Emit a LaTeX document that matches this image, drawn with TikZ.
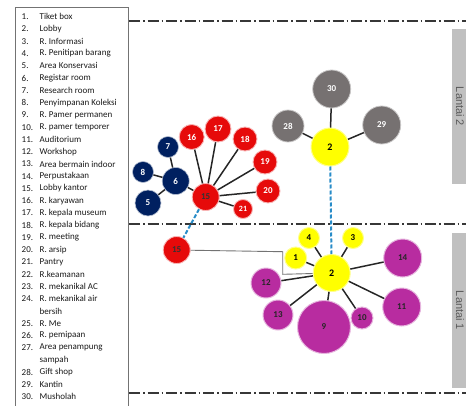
\documentclass[tikz,border=0pt]{standalone}
\usepackage{fontspec}
\setmainfont{Carlito}
\newfontfamily\lantaifont{Liberation Sans}
\definecolor{myred}{RGB}{230,10,10}
\definecolor{mynavy}{RGB}{0,32,96}
\definecolor{mygray}{RGB}{118,113,113}
\definecolor{myyel}{RGB}{255,255,0}
\definecolor{mymag}{RGB}{184,44,160}
\definecolor{myblue}{RGB}{40,140,200}
\definecolor{sepcol}{RGB}{55,55,55}
\definecolor{boxgray}{RGB}{192,192,192}
\tikzset{
  room/.style={circle, inner sep=0pt, font=\bfseries\fontsize{9}{10}\selectfont, minimum size=#1},
  rednode/.style={room=#1, fill=myred, draw=myred!30, line width=0.9pt, text=white},
  navynode/.style={room=#1, fill=mynavy, draw=mynavy!30, line width=0.6pt, text=white},
  graynode/.style={room=#1, fill=mygray, draw=mygray!40, line width=0.8pt, text=white},
  yelnode/.style={room=#1, fill=myyel, draw=myyel!45, line width=1pt, text=black},
  magnode/.style={room=#1, fill=mymag, draw=mymag!35, line width=1pt, text=black!85},
  conn/.style={line width=1.5pt, draw=black!85},
  blueconn/.style={line width=2pt, draw=myblue, dash pattern=on 4pt off 2pt},
  grayconn/.style={line width=0.9pt, draw=black!55},
  sepline/.style={line width=1.5pt, draw=sepcol, dash pattern=on 11pt off 3pt on 1.5pt off 3pt},
  lantai/.style={fill=boxgray, inner sep=0pt, text=black!65, rotate=-90, font=\lantaifont\fontsize{11}{12}\selectfont},
  legnum/.style={anchor=west, inner sep=0pt, text=black!90, font=\fontsize{9}{10}\selectfont},
}
\begin{document}
\begin{tikzpicture}[x=1pt,y=-1pt]
\useasboundingbox (0,0) rectangle (466,405);
% legend box
\draw[black!55, line width=0.8pt] (15,408) -- (15,7) -- (128,7) -- (128,408);
\foreach \r/\n/\t in {0/1./Tiket box, 1/2./Lobby, 2/3./R. Informasi, 3/4./R. Penitipan barang,
  4/5./Area Konservasi, 5/6./Registar room, 6/7./Research room, 7/8./Penyimpanan Koleksi,
  8/9./R. Pamer permanen, 9/10./R. pamer temporer, 10/11./Auditorium, 11/12./Workshop,
  12/13./Area bermain indoor, 13/14./Perpustakaan, 14/15./Lobby kantor, 15/16./R. karyawan,
  16/17./R. kepala museum, 17/18./R. kepala bidang, 18/19./R. meeting, 19/20./R. arsip,
  20/21./Pantry, 21/22./R.keamanan, 22/23./R. mekanikal AC, 23/24./R. mekanikal air,
  24//bersih, 25/25./R. Me, 26/26./R. pemipaan, 27/27./Area penampung, 28//sampah,
  29/28./Gift shop, 30/29./Kantin, 31/30./Musholah}{
  \node[legnum] (ln\r) at (21.5,{16.8+12.26*\r}) {\n};
  \node[legnum] (lt\r) at (39.5,{16.8+12.26*\r}) {\t};
}
% separators
\draw[sepline] (129,21) -- (466,21);
\draw[sepline] (129,224) -- (466,224);
\draw[sepline] (129,393) -- (466,393);
% floor labels
\node[lantai, minimum width=155, minimum height=16] (lt2) at (460,106.5) {Lantai 2};
\node[lantai, minimum width=155, minimum height=16] (lt1) at (460,310.5) {Lantai 1};
% upper floor, gray + yellow
\node[graynode=38] (n30) at (331.7,89) {30};
\node[graynode=32] (n28) at (288,126) {28};
\node[graynode=38] (n29) at (381.7,125) {29};
\node[yelnode=38, font=\bfseries\fontsize{10}{11}\selectfont] (n2u) at (330,147) {2};
% red cluster
\node[rednode=25] (n16) at (191.7,137) {16};
\node[rednode=26] (n17) at (218,129) {17};
\node[rednode=24] (n18) at (245,139) {18};
\node[rednode=24] (n19) at (265,162) {19};
\node[rednode=24] (n20) at (268,191) {20};
\node[rednode=19, font=\bfseries\fontsize{8}{9}\selectfont] (n21) at (243,209) {21};
\node[rednode=27, text=black!80] (n15u) at (205.7,197) {15};
\node[rednode=27, text=black!80] (n15l) at (176.7,250) {15};
% navy cluster
\node[navynode=27] (n6) at (175.7,181) {6};
\node[navynode=21] (n7) at (168,147) {7};
\node[navynode=21] (n8) at (143,172) {8};
\node[navynode=26] (n5) at (148,203) {5};
% lower floor
\node[yelnode=37, font=\bfseries\fontsize{10}{11}\selectfont] (n2l) at (331.7,273) {2};
\node[yelnode=21] (n4) at (309,238) {4};
\node[yelnode=21] (n3) at (353,238) {3};
\node[yelnode=22] (n1) at (295.7,258) {1};
\node[magnode=30] (n12) at (266,283) {12};
\node[magnode=30] (n13) at (278,315) {13};
\node[magnode=53] (n9) at (324,327) {9};
\node[magnode=22] (n10) at (362,318) {10};
\node[magnode=38] (n11) at (401.7,307) {11};
\node[magnode=38] (n14) at (402.7,258) {14};
% connectors
\foreach \a/\b in {n2u/n30, n2u/n28, n2u/n29,
  n6/n7, n6/n8, n6/n5, n6/n15u,
  n15u/n16, n15u/n17, n15u/n18, n15u/n19, n15u/n20, n15u/n21,
  n2l/n4, n2l/n3, n2l/n1, n2l/n12, n2l/n13, n2l/n9, n2l/n10, n2l/n11, n2l/n14}{
  \draw[conn] (\a) -- (\b);
}
\draw[blueconn] (n15u) -- (n15l);
\draw[blueconn] (n2u) -- (n2l);
\coordinate (k1) at (282.7,251.7);
\coordinate (k2) at (282.7,274.3);
\draw[grayconn] (n15l) -- (k1) -- (k2) -- (n2l);
\end{tikzpicture}
\end{document}
